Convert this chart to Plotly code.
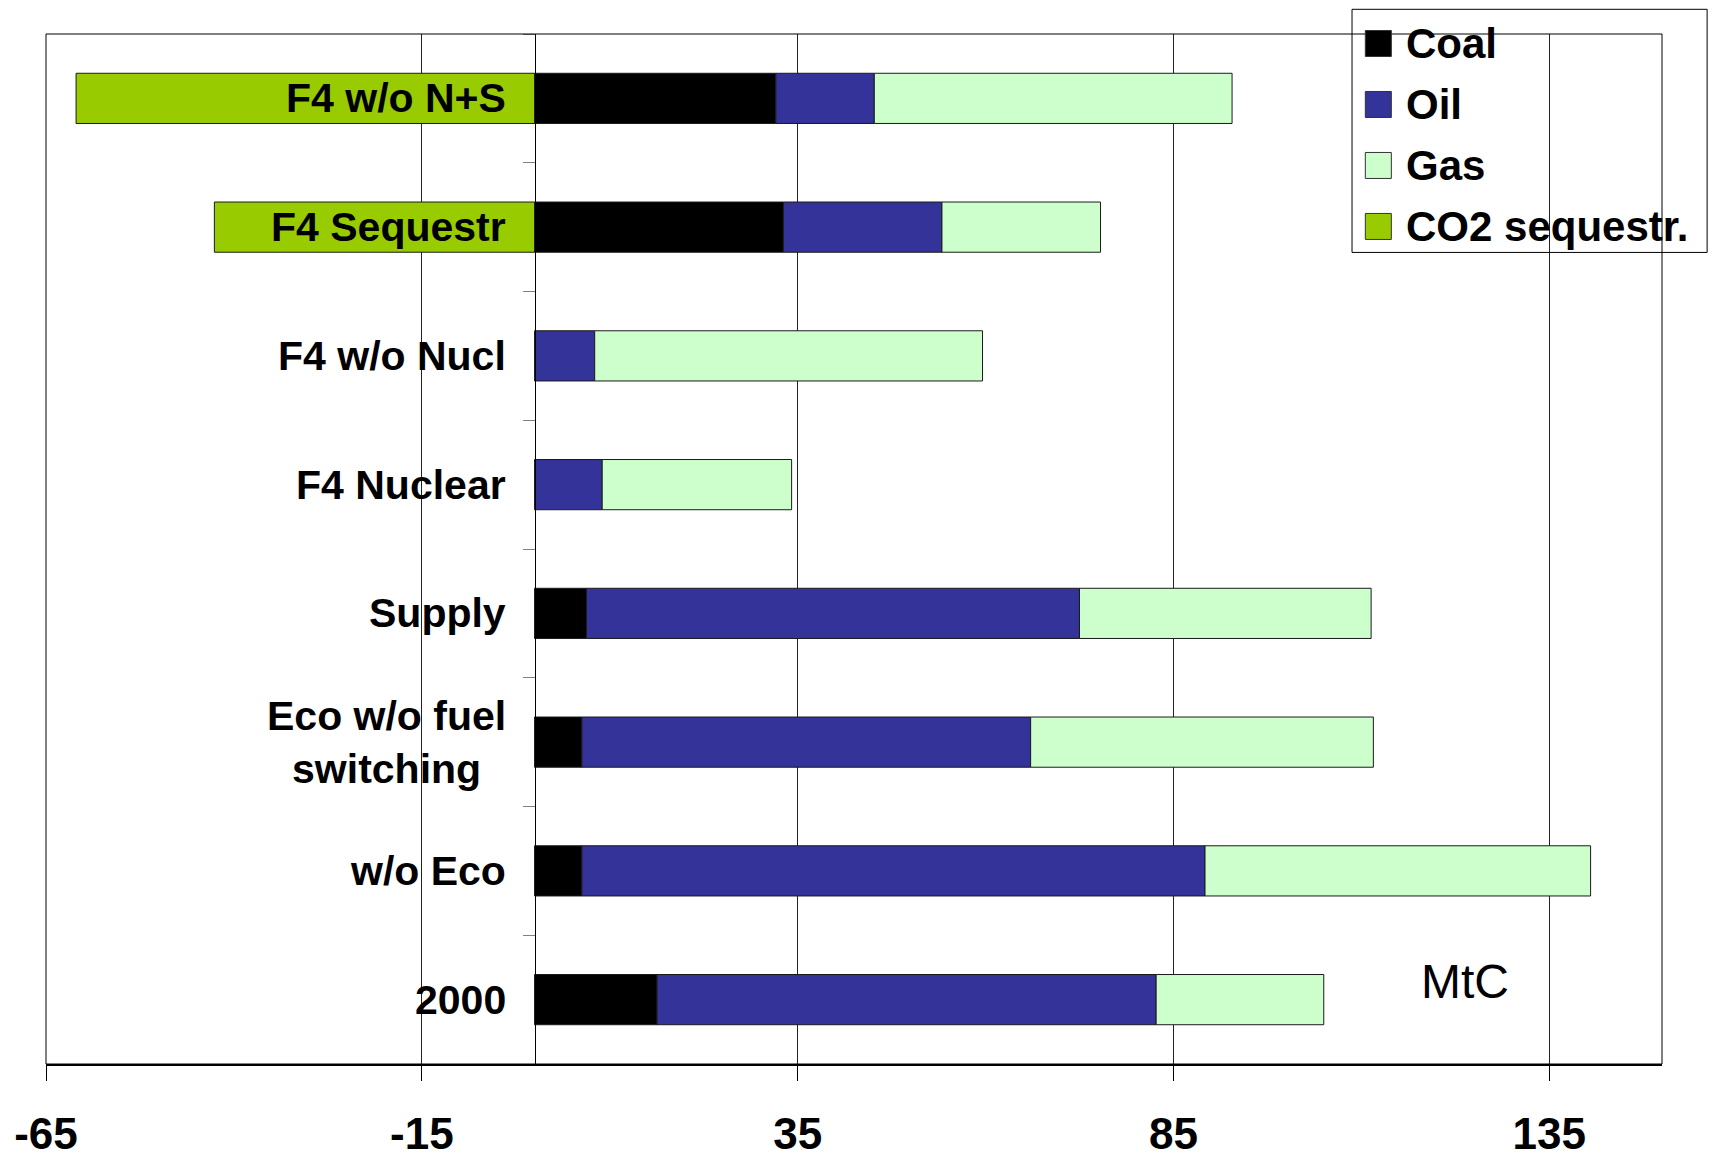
import plotly.graph_objects as go

# Scenarios, listed from top to bottom
categories = ["F4 w/o N+S", "F4 Sequestr", "F4 w/o Nucl", "F4 Nuclear",
              "Supply", "Eco w/o fuel<br>switching", "w/o Eco", "2000"]

# Emissions by fuel (MtC); sequestration is negative
coal = [32.1, 33.1, None, None, 6.9, 6.3, 6.3, 16.3]
oil = [13.1, 21.1, 8.0, 9.0, 65.6, 59.7, 82.9, 66.4]
gas = [47.6, 21.1, 51.6, 25.2, 38.8, 45.6, 51.3, 22.3]
co2_sequestr = [-61.0, -42.6, None, None, None, None, None, None]

series_names = ["Coal", "Oil", "Gas", "CO2 sequestr."]
series_colors = ["#000000", "#333399", "#CCFFCC", "#99CC00"]

x_ticks = [-65, -15, 35, 85, 135]
x_range = [-65, 150]
unit_label = "MtC"

W, H = 1714, 1153
L, R, T, B = 46, 1661.6, 34, 1064.3   # plot area in pixels

FONT = "Liberation Sans, Arial, Helvetica, sans-serif"


def px_x(p):
    return (p - L) / (R - L)


def px_y(p):
    return (B - p) / (B - T)


fig = go.Figure()
for name, vals, col in zip(series_names, [coal, oil, gas, co2_sequestr], series_colors):
    fig.add_trace(go.Bar(
        y=categories, x=vals, name=name, orientation="h",
        marker=dict(color=col, line=dict(color="#1a1a1a", width=1)),
        showlegend=False,
    ))

annotations = []
# scenario labels sit just left of the zero line (placed by category index)
for i, cat in enumerate(categories):
    annotations.append(dict(
        x=0, y=i, xref="x", yref="y", xanchor="right", yanchor="middle",
        xshift=-27, text=f"<b>{cat}</b>", showarrow=False, align="center",
        font=dict(family=FONT, size=41, color="black"),
    ))

shapes = [
    # frame around the plotting area
    dict(type="rect", xref="paper", yref="paper", x0=0, x1=1, y0=0, y1=1,
         line=dict(color="black", width=1), layer="above"),
    # legend box
    dict(type="rect", xref="paper", yref="paper",
         x0=px_x(1351.7), x1=px_x(1706.7), y0=px_y(252.5), y1=px_y(9.3),
         line=dict(color="black", width=1), fillcolor="rgba(0,0,0,0)", layer="above"),
]

legend_rows = [43.5, 104.5, 165.5, 226.5]
for name, col, cy in zip(series_names, series_colors, legend_rows):
    shapes.append(dict(
        type="rect", xref="paper", yref="paper",
        x0=px_x(1365), x1=px_x(1391), y0=px_y(cy + 13), y1=px_y(cy - 13),
        fillcolor=col, line=dict(color="#333333", width=1), layer="above",
    ))
    annotations.append(dict(
        x=px_x(1404), y=px_y(cy), xref="paper", yref="paper",
        xanchor="left", yanchor="middle", text=f"<b>{name}</b>", showarrow=False,
        font=dict(family=FONT, size=42, color="black"),
    ))

annotations.append(dict(
    x=px_x(1465), y=px_y(982), xref="paper", yref="paper",
    xanchor="center", yanchor="middle", text=unit_label, showarrow=False,
    font=dict(family=FONT, size=48, color="black"),
))

fig.update_layout(
    width=W, height=H,
    margin=dict(l=L, r=W - R, t=T, b=H - B, autoexpand=False),
    paper_bgcolor="white", plot_bgcolor="white",
    barmode="relative", bargap=0.61,
    showlegend=False,
    font=dict(family=FONT, color="black"),
    xaxis=dict(
        range=x_range, tickmode="array", tickvals=x_ticks,
        ticktext=[str(v) for v in x_ticks],
        showgrid=True, gridcolor="#222222", gridwidth=1, zeroline=False,
        showline=True, linecolor="black", linewidth=2,
        ticks="outside", ticklen=15, tickcolor="black", tickwidth=1,
        tickfont=dict(family=FONT, size=44, color="black", weight="bold"),
        ticklabelstandoff=15,
    ),
    yaxis=dict(
        type="category", range=[len(categories) - 0.5, -0.5],
        anchor="free", position=(0 - x_range[0]) / (x_range[1] - x_range[0]),
        showline=True, linecolor="black", linewidth=1,
        ticks="outside", ticklen=12, tickcolor="#808080", tickson="boundaries",
        showticklabels=False, showgrid=False, zeroline=False,
    ),
    annotations=annotations,
    shapes=shapes,
)

fig.write_html("out.html")
